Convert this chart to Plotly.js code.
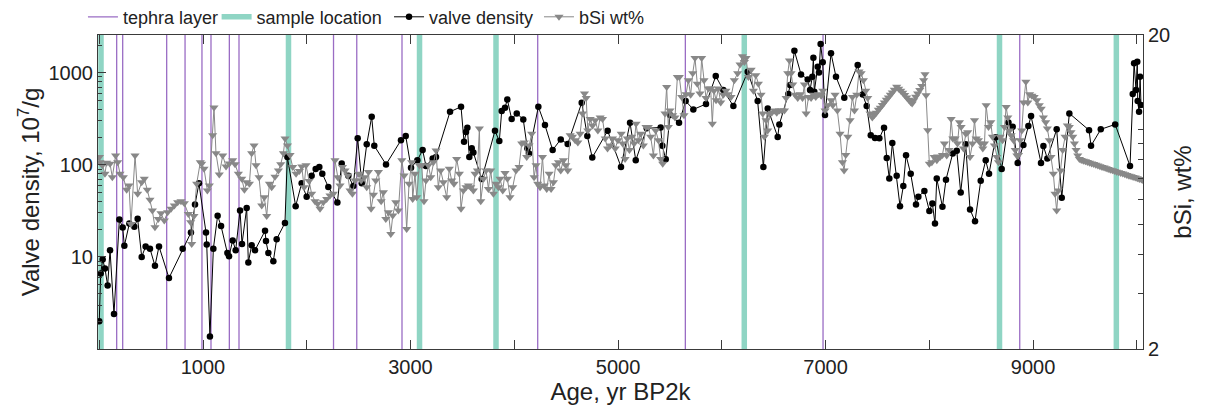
<!DOCTYPE html>
<html><head><meta charset="utf-8">
<script src="https://cdn.plot.ly/plotly-3.0.1.min.js"></script>
<style>html,body{margin:0;padding:0;background:#fff;}#chart{width:1206px;height:414px;}</style>
</head><body><div id="chart"></div>
<script>
const tephraAges = [168, 226, 650, 827, 990, 1077, 1254, 1347, 2258, 2482, 2918, 4226, 5649, 6976, 8872];
const sampleAges = [17, 1824, 3087, 3824, 6217, 8677, 9803];

const valveAge = [0,14,33,55,81,104,142,194,226,242,290,338,370,409,447,489,537,576,672,804,884,923,961,
1029,1036,1067,1100,1141,1174,1235,1251,1286,1315,1357,1376,1421,1437,1469,1501,1598,1607,1630,1678,1710,1790,1813,1893,1951,1999,
2047,2086,2121,2150,2208,2295,2337,2401,2449,2491,2530,2578,2626,2651,2764,2908,2954,3005,
3066,3117,3149,3214,3246,3381,3487,3516,3535,3548,3567,3590,3606,3686,3814,3856,3879,3911,3933,3975,4024,
4087,4126,4142,4232,4296,4370,4448,4515,4650,4704,4752,4900,5029,
5116,5171,5277,5411,5427,5460,5501,5588,5652,5726,5848,5942,6015,
6112,6250,6346,6401,6443,6539,6555,6642,6658,6700,6764,6828,6851,6873,6883,6892,6925,6937,6953,6973,6995,7053,
7101,7181,7310,7358,7397,7436,7477,7519,7564,7590,7615,7644,7686,7718,7750,7776,7821,7872,7895,7953,8001,8030,8055,8072,
8127,8161,8226,8265,8303,8351,8393,8441,8496,8544,8576,8640,8698,8763,8804,8852,8907,8955,8981,9077,
9100,9138,9228,9277,9350,9540,9559,9653,9792,9935,9961,9974,9993,10005,10009,10022,10032,10041];
const valveDensity = [2.0,6.6,9.4,7.5,4.9,11.8,2.4,25.5,20.9,13.2,23,21.2,26,10,13,12.3,8,13,5.9,12.3,18.4,37,63,
18.4,13.6,1.37,12.3,28,21.7,11,10.2,15.1,11.8,32,13.8,34,8.7,13.4,11.8,19.2,14.9,11,9,15.6,23.4,122,35.6,63,45,
76,90,95,80,57.5,39,103.5,76,59,194,63,167,333,161,101,185,206,93,
112,145,97,117.5,122,377,427,178,228,253,122,151,136,70,234,181,384,417,513,314,362,
311,151,133,427,270,145,189,168,472,206,120,234,95,
286,112,249,255,161,115,347,286,492,400,457,920,649,
435,1025,492,95,410,201,275,587,735,1734,960,847,649,905,1455,622,1162,1009,2050,1297,347,1625,
905,535,1213,582,435,210,196,194,253,119,71,173,76,35.6,59,127,80,37,45,52,31.6,38,23,71,
35,69,133,142,50,167,32.7,24.4,67,112,80,199,90,289,259,105,164,264,339,105,
160,117.5,243,43.8,362,238,161,243,275,97,587,1265,649,1318,492,377,905,446];

const bsiAge = [2,7,30,55,71,104,126,158,178,200,232,264,287,306,345,370,409,434,463,489,512,537,569,595,627,659,692,724,756,788,820,859,881,891,913,939,974,
987,1010,1042,1061,1093,1106,1125,1157,1190,1222,1254,1286,1309,1341,1373,1399,1421,1447,1469,1492,1511,1540,1566,1591,1614,1640,1662,1694,1727,1749,1775,1791,1814,1839,1865,1897,1929,1952,1974,1993,
2022,2047,2079,2105,2128,2160,2192,2224,2256,2272,2299,2321,2344,2369,2395,2417,2440,2466,2498,2524,2556,2578,2595,2620,2643,2665,2691,2717,2739,2762,2787,2810,2829,2858,2883,2916,2938,2963,2986,3011,
3021,3043,3060,3085,3108,3130,3149,3172,3195,3220,3246,3268,3291,3317,3349,3374,3397,3419,3445,3471,3487,3510,3535,3558,3580,3606,3622,3645,3664,3677,3703,3728,3751,3773,3799,3825,3847,3863,3889,3911,3934,3959,3985,4017,
4046,4072,4097,4120,4142,4168,4191,4210,4226,4249,4272,4290,4313,4336,4355,4378,4400,4426,4448,4474,4497,4516,4539,4561,4587,4613,4635,4658,4677,4693,4709,4732,4754,4780,4806,4828,4851,4877,4899,4925,4947,4973,4999,5031,
5045,5068,5090,5110,5132,5155,5174,5196,5219,5244,5270,5292,5315,5341,5363,5389,5411,5431,5453,5469,5485,5501,5527,5549,5572,5591,5614,5636,5656,5678,5700,5720,5742,5764,5790,5806,5829,5848,5871,5893,5909,5925,5945,5967,5990,6015,6040,
6057,6089,6121,6153,6176,6199,6218,6234,6257,6283,6305,6328,6353,6379,6395,6411,6427,6443,6459,6482,6508,6530,6556,6578,6604,6620,6636,6652,6668,6684,6707,6732,6755,6778,6797,6813,6836,6861,6884,6906,6932,6958,6974,6996,7022,7054,
7070,7092,7114,7140,7163,7179,7195,7215,7237,7259,7279,7301,7323,7343,7365,7388,7407,7429,7451,7471,7490,7509,7528,7548,7567,7586,7606,7625,7644,7663,7686,7705,7725,7744,7763,7782,7802,7821,7835,7850,7869,7888,7908,7927,7946,7959,7969,7985,8001,8025,8047,8073,
8081,8104,8127,8146,8168,8191,8211,8227,8249,8272,8291,8307,8330,8352,8371,8393,8416,8436,8452,8474,8497,8516,8532,8548,8571,8593,8609,8628,8651,8667,8683,8706,8725,8741,8757,8773,8789,8812,8828,8844,8860,8876,8892,8909,8931,8950,8967,8989,9011,9037,9060,9079,
9100,9122,9138,9157,9173,9196,9212,9228,9244,9267,9286,9309,9331,9350,9366,9383,9399,9415,9431,9447,
9465,9485,9505,9525,9545,9565,9585,9605,9625,9645,9665,9685,9705,9725,9745,9765,9785,9805,9825,9845,9865,9885,9905,9925,9945,9965,9985,10005,10025,10045,10058];
const bsiWt = [8.17,7.87,7.69,7.23,7.84,7.78,7.05,8.27,7.87,7.23,7.05,6.43,6.63,5.0,8.27,6.24,6.79,6.97,6.43,5.97,5.52,4.88,5.19,5.41,5.13,5.45,5.59,5.73,5.87,5.91,5.82,5.38,5.07,4.32,5.3,6.72,7.87,
7.78,7.5,6.4,6.63,9.59,11.75,8.41,7.19,8.27,7.63,7.8,7.98,7.75,7.23,6.97,6.43,6.79,6.72,8.41,8.9,7.69,7.05,5.73,6.09,5.3,6.72,6.55,7.07,7.41,7.75,8.41,9.36,8.9,8.3,7.6,7.23,7.38,7.63,6.55,7.69,
6.85,6.24,5.91,5.8,5.59,5.87,6.01,6.16,6.24,7.98,7.05,6.63,7.6,7.41,7.14,6.4,6.24,6.88,7.23,6.88,7.05,6.55,7.32,5.59,6.2,6.88,7.32,5.91,6.31,5.19,5.45,4.65,5.32,5.87,5.52,7.98,7.14,4.82,6.72,7.87,
6.01,7.23,6.09,7.69,7.69,5.91,6.88,7.69,7.05,7.87,8.58,6.55,7.41,6.79,6.09,7.5,6.88,6.72,8.06,7.23,5.59,6.4,6.55,6.63,6.55,6.4,7.23,7.41,10.07,5.91,6.97,7.41,6.47,7.41,6.24,6.72,6.55,6.97,6.4,7.27,6.97,6.09,6.55,7.41,
7.6,9.02,9.1,8.17,8.9,9.7,7.05,7.69,6.72,6.55,8.17,6.63,6.47,7.23,6.47,6.79,7.69,7.87,7.41,7.98,7.69,7.41,9.59,9.48,9.25,9.1,9.7,11.24,13.03,12.6,9.93,10.8,10.3,10.7,9.93,10.93,10.8,9.36,8.7,8.9,9.36,8.7,9.25,9.7,
9.02,8.06,9.36,8.6,9.48,9.02,10.44,9.25,9.7,8.9,10.19,10.19,9.48,8.27,9.93,9.25,8.06,7.78,11.24,13.67,10.19,11.5,11.1,10.93,14.7,14.7,12.7,11.1,12.95,14.36,12.9,15.1,16.9,14.0,13.03,16.9,14.36,12.6,13.5,13.5,10.44,13.3,12.4,13.5,12.2,12.9,13.3,
12.95,12.7,14.36,15.1,16.1,17.1,16.4,16.9,14.7,15.5,13.3,14.9,14.0,12.9,11.24,9.48,10.7,9.93,11.2,11.3,11.5,11.3,11.5,11.5,11.5,12.6,15.1,16.6,15.1,13.9,12.9,12.6,12.95,12.6,13.9,11.24,12.7,12.6,12.9,12.7,12.95,12.8,13.3,11.5,11.95,12.4,
11.95,12.9,11.5,9.7,7.87,7.41,8.3,9.48,10.7,12.7,11.5,12.9,15.3,15.1,14.36,13.3,12.6,11.24,10.92,11.13,11.3,11.55,11.74,11.98,12.19,12.43,12.65,12.9,13.12,13.38,13.68,13.48,13.28,13.09,12.87,12.65,12.43,12.22,12.1,12.4,12.71,13.02,13.35,13.75,14.36,15.0,12.86,9.94,7.78,7.87,8.17,7.98,
8.2,8.17,8.3,9.02,8.27,8.6,10.8,9.36,9.36,9.02,10.55,10.19,8.7,9.7,9.8,8.17,9.02,10.7,9.36,9.25,9.02,8.7,9.02,11.95,10.19,10.55,9.48,8.9,8.17,7.87,9.48,9.25,10.19,11.8,10.93,9.93,9.59,9.25,8.6,8.27,8.3,9.25,9.93,12.2,14.2,12.2,12.95,12.8,12.7,12.4,11.95,11.65,
10.93,10.55,10.07,9.25,8.17,7.23,6.24,5.52,6.4,7.41,8.6,9.48,10.3,10.19,9.8,9.48,9.02,8.6,8.27,8.06,
8.00,7.96,7.92,7.88,7.84,7.80,7.76,7.72,7.68,7.64,7.60,7.57,7.53,7.49,7.45,7.42,7.38,7.34,7.31,7.27,7.24,7.20,7.17,7.13,7.10,7.06,7.03,7.00,6.96,6.93,6.91];

const xTickVals = [1000,3000,5000,7000,9000];
const xTickText = ['1000','3000','5000','7000','9000'];
const xMinorVals = [0,2000,4000,6000,8000,10000];
const yTickVals = [10,100,1000];
const yTickText = ['10','100','1000'];
const yMinorVals = [2,3,4,5,6,7,8,9,20,30,40,50,60,70,80,90,200,300,400,500,600,700,800,900,2000];
const y2TickVals = [2,20];
const y2TickText = ['2','20'];
const y2MinorVals = [3,4,5,6,7,8,9,10];

const Y_LOW = 0.5, Y_HIGH = 10000;
function vlines(ages){
  const xs=[], ys=[];
  ages.forEach(a=>{xs.push(a,a,null); ys.push(Y_LOW,Y_HIGH,null);});
  return {xs, ys};
}
const teph = vlines(tephraAges);
const samp = vlines(sampleAges);

const FONT = 'Liberation Sans, Arial, Helvetica, sans-serif';
const AX = '#3a3a3a';

const traces = [
  {x: teph.xs, y: teph.ys, mode:'lines', name:'tephra layer', legend:'legend',
   line:{color:'#9a6cc4', width:1.3}, hoverinfo:'skip'},
  {x: samp.xs, y: samp.ys, mode:'lines', name:'sample location', legend:'legend2',
   line:{color:'#8fd5c4', width:5.5}, hoverinfo:'skip'},
  {x: valveAge, y: valveDensity, mode:'lines+markers', name:'valve density', legend:'legend3',
   line:{color:'#000', width:1}, marker:{color:'#000', size:6.5, symbol:'circle'}},
  {x: bsiAge, y: bsiWt, yaxis:'y2', mode:'lines+markers', name:'bSi wt%', legend:'legend4',
   line:{color:'#888', width:1}, marker:{color:'#888', size:8, symbol:'triangle-down'}}
];

function leg(x){
  return {orientation:'h', x:x, xanchor:'left', y:1.057, yanchor:'middle',
          font:{family:FONT, size:18, color:'#222'}, itemwidth:30, bgcolor:'rgba(0,0,0,0)', borderwidth:0};
}

const layout = {
  width:1206, height:414,
  margin:{l:98, r:63, t:35, b:65, autoexpand:false},
  paper_bgcolor:'#fff', plot_bgcolor:'#fff',
  font:{family:FONT, size:20, color:'#222'},
  showlegend:true,
  legend: leg(-0.0144),
  legend2: leg(0.1135),
  legend3: leg(0.2785),
  legend4: leg(0.4220),
  xaxis:{range:[-12,10060], tickmode:'array', tickvals:xTickVals, ticktext:xTickText,
         ticks:'inside', ticklen:9, tickwidth:1, tickcolor:AX,
         minor:{tickmode:'array', tickvals:xMinorVals, ticks:'inside', ticklen:9, tickcolor:AX, showgrid:false},
         showline:true, linecolor:AX, linewidth:1, mirror:'ticks',
         showgrid:false, zeroline:false, tickfont:{size:20},
         title:{text:'Age, yr BP2k', font:{size:24}, standoff:4}},
  yaxis:{type:'log', range:[0.0,3.41], tickmode:'array', tickvals:yTickVals, ticktext:yTickText,
         ticks:'inside', ticklen:8, tickwidth:1, tickcolor:AX,
         minor:{tickmode:'array', tickvals:yMinorVals, ticks:'inside', ticklen:4, tickcolor:AX, showgrid:false},
         showline:true, linecolor:AX, linewidth:1, mirror:true,
         showgrid:false, zeroline:false, tickfont:{size:20},
         title:{text:'Valve density, 10<sup>7</sup>/g', font:{size:24}, standoff:2}},
  yaxis2:{type:'log', overlaying:'y', side:'right', range:[Math.log10(2),Math.log10(20)],
          tickmode:'array', tickvals:y2TickVals, ticktext:y2TickText,
          ticks:'inside', ticklen:5, tickwidth:1, tickcolor:AX,
          minor:{tickmode:'array', tickvals:y2MinorVals, ticks:'inside', ticklen:5, tickcolor:AX, showgrid:false},
          showline:true, linecolor:AX, linewidth:1,
          showgrid:false, zeroline:false, tickfont:{size:20},
          title:{text:'bSi, wt%', font:{size:24}, standoff:4}}
};

Plotly.newPlot('chart', traces, layout, {displayModeBar:false, staticPlot:true});
</script>
</body></html>
